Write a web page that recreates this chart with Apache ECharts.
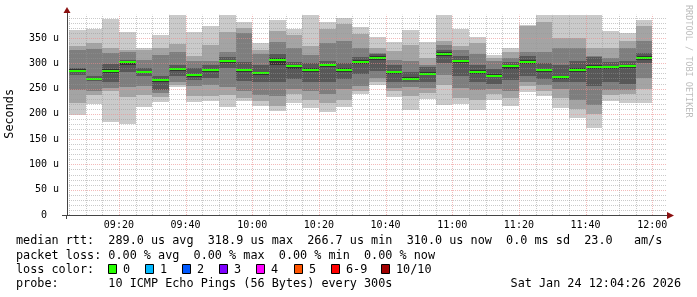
<!DOCTYPE html>
<html><head><meta charset="utf-8">
<script src="https://cdn.jsdelivr.net/npm/echarts@6/dist/echarts.min.js"></script>
<style>html,body{margin:0;padding:0;background:#fff}#c{width:697px;height:297px}</style>
</head><body><div id="c"></div>
<script>
// ---- data (microseconds), one array per ping rank, 5-minute slots ----
const slotStarts = ['09:05','09:10','09:15','09:20','09:25','09:30','09:35','09:40','09:45','09:50',
  '09:55','10:00','10:05','10:10','10:15','10:20','10:25','10:30','10:35','10:40',
  '10:45','10:50','10:55','11:00','11:05','11:10','11:15','11:20','11:25','11:30',
  '11:35','11:40','11:45','11:50','11:55'];
const ping1  = [198,220,183,180,213,224,253,224,225,213,225,216,206,221,211,203,213,240,257,233,207,230,217,219,207,228,216,244,236,211,191,173,226,222,221];
const ping2  = [221,237,245,234,237,234,258,236,236,238,232,226,216,240,228,222,228,246,262,245,236,241,258,231,227,240,231,255,246,232,210,200,238,240,250];
const ping3  = [247,246,252,254,255,242,262,256,258,254,246,238,235,250,246,240,250,255,270,251,253,251,276,251,248,249,245,262,258,250,228,218,248,248,270];
const ping4  = [277,264,262,283,275,248,275,266,270,290,265,262,262,268,263,262,268,278,285,262,262,262,300,274,262,260,266,275,268,262,262,255,262,260,300];
const ping5  = [282,267,280,296,280,262,285,273,283,301,283,276,297,288,283,292,282,298,307,279,266,276,315,300,279,273,289,298,283,268,282,288,288,290,307];
const ping6  = [288,271,288,304,284,268,291,279,289,307,289,283,310,297,290,299,290,306,314,285,272,283,322,307,286,278,297,306,289,275,290,296,295,297,314];
const ping7  = [291,274,298,307,290,275,296,290,297,313,303,297,318,303,300,305,300,312,318,297,283,292,327,314,296,288,303,314,300,296,305,312,303,304,320];
const ping8  = [326,328,320,322,307,317,322,304,304,323,360,318,343,330,317,340,345,330,320,306,304,297,337,327,318,304,310,323,323,330,330,315,310,330,345];
const ping9  = [334,341,330,326,327,330,338,314,337,362,370,326,363,356,335,367,378,357,330,324,337,310,345,334,340,310,323,373,381,350,350,330,330,345,373];
const ping10 = [366,368,388,362,331,356,396,362,374,396,381,340,386,368,396,381,389,371,351,343,365,343,396,367,352,317,330,376,396,396,396,396,364,360,386];
const median = [285,269.5,285,303,282,266.7,289,277,287,305,286,281,307,294,287,297,286,302,311,282,269.5,279,318.9,305,282.7,275,294,302,286,272,287,292.5,292,294,310];

const xTickLabels = ['09:20','09:40','10:00','10:20','10:40','11:00','11:20','11:40','12:00'];
const lossLabels = ['0','1','2','3','4','5','6-9','10/10'];
const lossColors = ['#26ff00','#00b8ff','#0059ff','#7e00ff','#ff00ff','#ff5500','#ff0000','#a10000'];
const smokeShades = ['#cacaca','#a4a4a4','#7e7e7e','#585858','#323232','#585858','#7e7e7e','#a4a4a4','#cacaca'];

const toMin = s => { const [h, m] = s.split(':').map(Number); return h * 60 + m; };
const xMin = toMin('09:04') + 26 / 60;
const xMax = xMin + 180;
const yMin = 0, yMax = 400;

const rows = slotStarts.map((s, k) => [toMin(s), ping1[k], ping2[k], ping3[k], ping4[k], ping5[k],
  ping6[k], ping7[k], ping8[k], ping9[k], ping10[k], median[k]]);

const MONO = "'DejaVu Sans Mono', monospace";
const chart = echarts.init(document.getElementById('c'), null, {renderer: 'canvas'});

function pad(n) { return (n < 10 ? '0' : '') + n; }

const MAJOR = 'rgba(235,140,140,0.6)';
const MINOR = 'rgba(150,150,150,0.5)';

chart.setOption({
  animation: false,
  backgroundColor: '#ffffff',
  grid: {left: 67, right: 30, top: 12.7, height: 202.3, containLabel: false, outerBoundsMode: 'none'},
  xAxis: {
    type: 'value', min: xMin, max: xMax, z: 10,
    axisLine: {show: true, onZero: false, lineStyle: {color: '#444', width: 1}},
    axisTick: {show: false},
    splitLine: {show: false},
    axisLabel: {
      customValues: xTickLabels.map(toMin),
      formatter: v => pad(Math.floor(Math.round(v) / 60)) + ':' + pad(Math.round(v) % 60),
      fontFamily: MONO, fontSize: 10, color: '#000', margin: 5
    }
  },
  yAxis: {
    type: 'value', min: yMin, max: yMax, interval: 50, z: 10,
    name: 'Seconds', nameLocation: 'middle', nameRotate: 90, nameGap: 51,
    nameTextStyle: {fontFamily: MONO, fontSize: 11.8, color: '#000'},
    axisLine: {show: true, lineStyle: {color: '#444', width: 1}},
    axisTick: {show: false},
    splitLine: {show: false},
    axisLabel: {
      formatter: v => v === 0 ? '0  ' : (v >= 400 ? '' : v + ' u'),
      fontFamily: MONO, fontSize: 10, color: '#000', margin: 8
    }
  },
  series: [
    {
      type: 'custom', name: 'smoke', z: 2, clip: true,
      data: rows,
      encode: {x: 0, y: [1, 2, 3, 4, 5, 6, 7, 8, 9, 10, 11]},
      renderItem: (params, api) => {
        const t0 = api.value(0);
        const xa = Math.round(api.coord([Math.max(t0, xMin), 0])[0]);
        const xb = Math.round(api.coord([t0 + 5, 0])[0]);
        const children = [];
        for (let i = 0; i < 9; i++) {
          const ya = Math.round(api.coord([t0, api.value(i + 1)])[1]);
          const yb = Math.round(api.coord([t0, api.value(i + 2)])[1]);
          if (ya - yb <= 0) continue;
          children.push({type: 'rect', shape: {x: xa, y: yb, width: xb - xa, height: ya - yb},
            style: {fill: smokeShades[i]}});
        }
        const ym = Math.round(api.coord([t0, api.value(11)])[1]);
        children.push({type: 'rect', shape: {x: xa, y: ym - 1, width: xb - xa, height: 2},
          style: {fill: lossColors[0]}});
        return {type: 'group', children};
      }
    },
    {
      type: 'custom', name: 'grid', z: 5, silent: true,
      data: [[xMin, 0]],
      renderItem: (params, api) => {
        const children = [];
        const left = api.coord([xMin, 0])[0], right = api.coord([xMax, 0])[0];
        const bottom = api.coord([xMin, 0])[1], top = api.coord([xMin, 390])[1] - 3;
        for (let v = 10; v <= 390; v += 10) {
          const y = Math.round(api.coord([xMin, v])[1]) + 0.5;
          const major = v % 50 === 0;
          children.push({type: 'line', shape: {x1: left, y1: y, x2: right, y2: y},
            style: {stroke: major ? MAJOR : MINOR, lineWidth: 1, lineDash: [1, 1]}});
        }
        for (let t = toMin('09:05'); t <= toMin('12:00'); t += 5) {
          const x = Math.round(api.coord([t, 0])[0]) + 0.5;
          const major = t % 20 === 0;
          children.push({type: 'line', shape: {x1: x, y1: bottom, x2: x, y2: top},
            style: {stroke: major ? MAJOR : MINOR, lineWidth: 1, lineDash: [1, 1]}});
        }
        return {type: 'group', children};
      }
    }
  ],
  graphic: (function () {
    const g = [];
    const txt = (x, y, s, extra) => g.push(Object.assign({type: 'text', x, y,
      style: {text: s, fontFamily: MONO, fontSize: 11.8, fill: '#000', textVerticalAlign: 'middle'}}, extra || {}));
    txt(16, 241, 'median rtt:  289.0 us avg  318.9 us max  266.7 us min  310.0 us now  0.0 ms sd  23.0   am/s');
    txt(16, 255.5, 'packet loss: 0.00 % avg  0.00 % max  0.00 % min  0.00 % now');
    txt(16, 269.5, 'loss color:');
    const boxX = [108, 145, 182, 219, 256, 294, 331, 381];
    lossLabels.forEach((l, i) => {
      g.push({type: 'rect', shape: {x: boxX[i] + 0.5, y: 264.5, width: 8, height: 9},
        style: {fill: lossColors[i], stroke: '#000', lineWidth: 1}});
      txt(boxX[i] + 15, 269.5, l);
    });
    txt(16, 284, 'probe:       10 ICMP Echo Pings (56 Bytes) every 300s');
    g.push({type: 'text', x: 681, y: 284, style: {text: 'Sat Jan 24 12:04:26 2026', fontFamily: MONO,
      fontSize: 11.8, fill: '#000', textAlign: 'right', textVerticalAlign: 'middle'}});
    g.push({type: 'text', x: 688, y: 5, rotation: -Math.PI / 2, style: {text: 'RRDTOOL / TOBI OETIKER',
      fontFamily: MONO, fontSize: 8.5, fill: '#bdbdbd', textAlign: 'left', textVerticalAlign: 'middle'}});
    // axis arrows & extensions
    g.push({type: 'line', z: 20, shape: {x1: 62, y1: 215.5, x2: 67, y2: 215.5}, style: {stroke: '#444'}});
    g.push({type: 'line', z: 20, shape: {x1: 66.5, y1: 215, x2: 66.5, y2: 219}, style: {stroke: '#444'}});
    g.push({type: 'polygon', z: 20, shape: {points: [[63.5, 13], [70.5, 13], [67, 7]]}, style: {fill: '#8b1010'}});
    g.push({type: 'polygon', z: 20, shape: {points: [[667, 212], [667, 219], [674, 215.5]]}, style: {fill: '#8b1010'}});
    return g;
  })()
});
</script></body></html>
